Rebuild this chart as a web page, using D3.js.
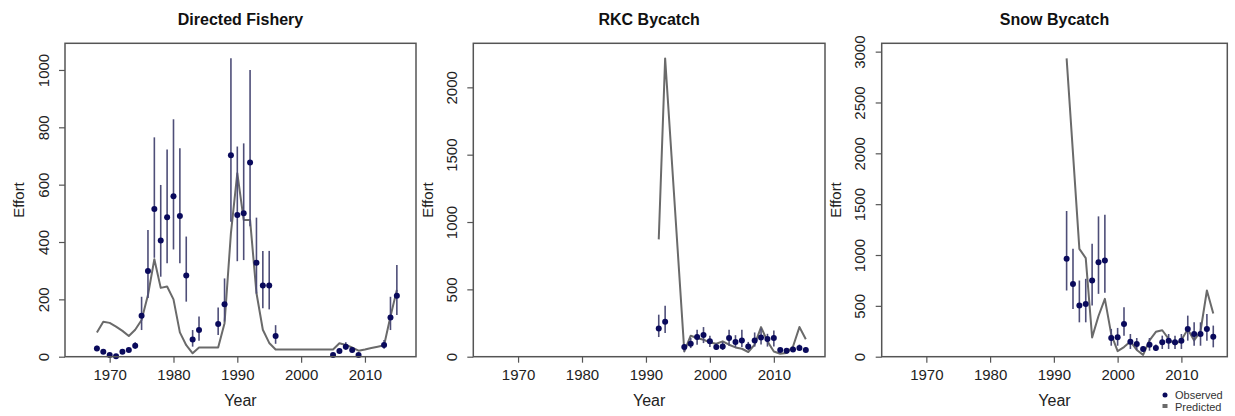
<!DOCTYPE html>
<html>
<head>
<meta charset="utf-8">
<script src="https://cdn.jsdelivr.net/npm/d3@7"></script>
<style>
  body { margin: 0; background: #fff; }
  text { font-family: "Liberation Sans", Arial, sans-serif; }
</style>
</head>
<body>
<div class="contain"></div>
<script>
// ---- data ----
const xTicks = [1970, 1980, 1990, 2000, 2010];

// Directed Fishery
const dirObsYears = [1968, 1969, 1970, 1971, 1972, 1973, 1974, 1975, 1976, 1977, 1978, 1979, 1980, 1981, 1982, 1983, 1984,
                     1987, 1988, 1989, 1990, 1991, 1992, 1993, 1994, 1995, 1996, 2005, 2006, 2007, 2008, 2009, 2013, 2014, 2015];
const dirObs   = [29, 17, 6, 2, 17, 23, 38, 143, 299, 515, 405, 486, 560, 491, 283, 60, 93,
                  114, 183, 703, 494, 500, 677, 328, 248, 248, 72, 6, 20, 35, 23, 6, 41, 137, 213];
const dirLower = [22, 13, 4, 1, 13, 17, 28, 93, 205, 345, 279, 326, 374, 326, 192, 35, 56,
                  76, 123, 471, 333, 337, 455, 220, 169, 165, 45, 4, 14, 24, 16, 4, 28, 93, 145];
const dirUpper = [38, 22, 8, 3, 22, 30, 50, 209, 442, 765, 599, 723, 828, 727, 419, 93, 140,
                  172, 273, 1041, 733, 744, 1000, 485, 369, 369, 110, 9, 28, 50, 32, 9, 58, 209, 320];
const dirPredYears = d3.range(1968, 2016);
const dirPred = [84, 122, 118, 105, 90, 72, 94, 128, 215, 340, 240, 245, 200, 85, 40, 12, 32, 32, 32, 32,
                 117, 431, 640, 477, 477, 222, 94, 48, 25, 25, 25, 25, 25, 25, 25, 25, 25, 25,
                 47, 41, 32, 21, 25, 30, 35, 40, 140, 233];
const dirYTicks = [0, 200, 400, 600, 800, 1000];

// RKC Bycatch
const rkcObsYears = [1992, 1993, 1996, 1997, 1998, 1999, 2000, 2001, 2002, 2003, 2004, 2005, 2006, 2007, 2008, 2009, 2010, 2011, 2012, 2013, 2014, 2015];
const rkcObs   = [210, 260, 72, 96, 146, 161, 114, 72, 76, 139, 109, 121, 76, 121, 143, 131, 139, 50, 45, 54, 65, 50];
const rkcLower = [146, 176, 39, 64, 89, 101, 72, 50, 50, 82, 70, 72, 50, 75, 90, 75, 76, 35, 32, 38, 45, 35];
const rkcUpper = [312, 378, 94, 139, 200, 220, 156, 100, 110, 200, 160, 200, 110, 180, 210, 170, 195, 65, 60, 72, 90, 68];
const rkcPredYears = d3.range(1992, 2016);
const rkcPred = [871, 2215, 1490, 764, 39, 156, 139, 126, 106, 96, 114, 89, 69, 59, 35, 89, 220, 114, 39, 22, 27, 76, 220, 130];
const rkcYTicks = [0, 500, 1000, 1500, 2000];

// Snow Bycatch
const snowObsYears = d3.range(1992, 2016);
const snowObs   = [963, 716, 503, 519, 749, 930, 946, 184, 191, 322, 148, 125, 76, 118, 85, 141, 158, 141, 158, 273, 223, 223, 273, 197];
const snowLower = [651, 470, 338, 338, 503, 618, 628, 108, 108, 207, 76, 66, 45, 59, 55, 76, 76, 76, 76, 158, 108, 108, 158, 92];
const snowUpper = [1433, 1061, 749, 766, 1111, 1380, 1397, 273, 283, 486, 223, 184, 100, 184, 120, 207, 223, 207, 223, 404, 338, 338, 421, 306];
const snowPredYears = d3.range(1992, 2016);
const snowPred = [2934, 2000, 1061, 970, 190, 400, 569, 220, 55, 95, 150, 66, 18, 160, 245, 260, 175, 120, 165, 270, 160, 250, 651, 425];
const snowYTicks = [0, 500, 1000, 1500, 2000, 2500, 3000];

const legendLabels = ["Observed", "Predicted"];

// ---- layout ----
const W = 1235, H = 416;
const plotTop = 43.3, plotBottom = 356.7;

const panels = [
  { title: "Directed Fishery", left: 65, right: 416, xMax: 2018, yMax: 1093, yTicks: dirYTicks, labelX: 18.3,
    obsYears: dirObsYears, obs: dirObs, lo: dirLower, hi: dirUpper, predYears: dirPredYears, pred: dirPred },
  { title: "RKC Bycatch", left: 473.3, right: 825, xMax: 2018, yMax: 2327, yTicks: rkcYTicks, labelX: 427,
    obsYears: rkcObsYears, obs: rkcObs, lo: rkcLower, hi: rkcUpper, predYears: rkcPredYears, pred: rkcPred },
  { title: "Snow Bycatch", left: 881.7, right: 1227.3, xMax: 2017.2, yMax: 3082, yTicks: snowYTicks, labelX: 835,
    obsYears: snowObsYears, obs: snowObs, lo: snowLower, hi: snowUpper, predYears: snowPredYears, pred: snowPred }
];

const ptColor = "#0a0a5c";
const barColor = "#4e4e78";
const lineColor = "#6a6a6a";
const boxColor = "#555";

let svg = d3.select(".contain").append("svg")
            .attr("width", W).attr("height", H);

panels.forEach((p) => {
  let xScale = d3.scaleLinear().domain([1963, p.xMax]).range([p.left, p.right]);
  let yScale = d3.scaleLinear().domain([0, p.yMax]).range([plotBottom, plotTop]);
  let cx = (p.left + p.right) / 2;

  // predicted line
  let line = d3.line().x((d) => xScale(d[0])).y((d) => yScale(d[1]));
  svg.append("path")
     .datum(p.predYears.map((yr, i) => [yr, p.pred[i]]))
     .attr("d", line)
     .attr("fill", "none").attr("stroke", lineColor).attr("stroke-width", 2)
     .attr("stroke-linejoin", "round");

  // error bars
  svg.append("g").selectAll("line")
     .data(p.obsYears).enter().append("line")
     .attr("x1", (d) => xScale(d)).attr("x2", (d) => xScale(d))
     .attr("y1", (d, i) => yScale(p.lo[i])).attr("y2", (d, i) => yScale(p.hi[i]))
     .attr("stroke", barColor).attr("stroke-width", 1.6);

  // observed points
  svg.append("g").selectAll("circle")
     .data(p.obsYears).enter().append("circle")
     .attr("cx", (d) => xScale(d)).attr("cy", (d, i) => yScale(p.obs[i]))
     .attr("r", 3).attr("fill", ptColor);

  // x axis
  let xAxis = d3.axisBottom(xScale).tickValues(xTicks).tickFormat(d3.format("d"))
                .tickSize(6).tickPadding(7);
  let gx = svg.append("g").attr("transform", `translate(0, ${plotBottom})`).call(xAxis);
  gx.select(".domain").remove();
  gx.selectAll("line").attr("stroke", boxColor).attr("stroke-width", 1.2);
  gx.selectAll("text").attr("font-size", 15).attr("fill", "#222")
    .attr("font-family", "Liberation Sans, Arial, sans-serif");

  // y axis, labels parallel to the axis
  let yAxis = d3.axisLeft(yScale).tickValues(p.yTicks).tickFormat(d3.format("d")).tickSize(6);
  let gy = svg.append("g").attr("transform", `translate(${p.left}, 0)`).call(yAxis);
  gy.select(".domain").remove();
  gy.selectAll("line").attr("stroke", boxColor).attr("stroke-width", 1.2);
  gy.selectAll("text")
    .attr("x", null).attr("dy", null)
    .attr("transform", "translate(-16.5, 0) rotate(-90)")
    .attr("text-anchor", "middle")
    .attr("font-size", 15).attr("fill", "#222")
    .attr("font-family", "Liberation Sans, Arial, sans-serif");

  // box
  svg.append("rect")
     .attr("x", p.left).attr("y", plotTop)
     .attr("width", p.right - p.left).attr("height", plotBottom - plotTop)
     .attr("fill", "none").attr("stroke", boxColor).attr("stroke-width", 1.5);

  // title and axis titles
  svg.append("text").attr("x", cx).attr("y", 25)
     .attr("text-anchor", "middle").attr("font-weight", "bold").attr("font-size", 16)
     .attr("fill", "#111").text(p.title);
  svg.append("text").attr("x", cx).attr("y", 406)
     .attr("text-anchor", "middle").attr("font-size", 16).attr("fill", "#222").text("Year");
  svg.append("text")
     .attr("transform", `translate(${p.labelX + 5.5}, ${(plotTop + plotBottom) / 2}) rotate(-90)`)
     .attr("text-anchor", "middle").attr("font-size", 15).attr("fill", "#222").text("Effort");
});

// legend (bottom right)
let lg = svg.append("g").attr("transform", "translate(1165, 0)");
lg.append("circle").attr("cx", 0).attr("cy", 395).attr("r", 2.5).attr("fill", ptColor);
lg.append("rect").attr("x", -2.5).attr("y", 404).attr("width", 5).attr("height", 4).attr("fill", lineColor);
lg.selectAll("text.leg")
  .data(legendLabels).enter().append("text")
  .attr("class", "leg")
  .attr("x", 10).attr("y", (d, i) => 399 + i * 11.5)
  .attr("font-size", 11).attr("fill", "#333")
  .text((d) => d);
</script>
</body>
</html>
